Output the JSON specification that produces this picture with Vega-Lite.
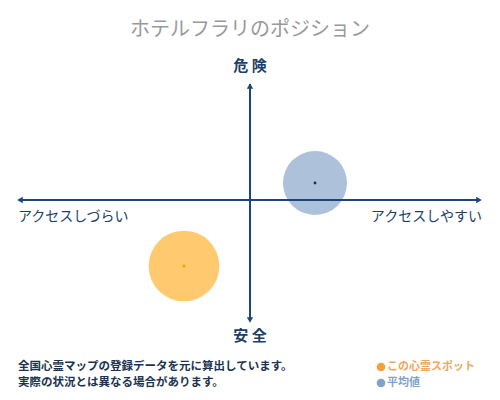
{
  "$schema": "https://vega.github.io/schema/vega-lite/v6.json",
  "width": 500,
  "height": 400,
  "padding": 0,
  "autosize": "none",
  "background": "#ffffff",
  "config": {
    "view": {"stroke": null},
    "text": {"font": "Noto Sans CJK JP"}
  },
  "encoding": {
    "x": {"type": "quantitative", "scale": {"domain": [-5, 5]}, "axis": null},
    "y": {"type": "quantitative", "scale": {"domain": [-4, 4]}, "axis": null}
  },
  "layer": [
    {
      "data": {"values": [
        {"series": "この心霊スポット", "access": -1.32, "danger": -1.32},
        {"series": "平均値", "access": 1.3, "danger": 0.34}
      ]},
      "mark": {"type": "circle", "opacity": 1},
      "encoding": {
        "x": {"field": "access"},
        "y": {"field": "danger"},
        "color": {"field": "series", "type": "nominal", "legend": null,
          "scale": {"domain": ["この心霊スポット", "平均値"], "range": ["#fec96f", "#adc2da"]}},
        "size": {"field": "series", "type": "ordinal", "legend": null,
          "scale": {"domain": ["この心霊スポット", "平均値"], "range": [5000, 4100]}}
      }
    },
    {
      "data": {"values": [
        {"series": "この心霊スポット", "access": -1.32, "danger": -1.32},
        {"series": "平均値", "access": 1.3, "danger": 0.34}
      ]},
      "mark": {"type": "circle", "size": 8, "opacity": 1},
      "encoding": {
        "x": {"field": "access"},
        "y": {"field": "danger"},
        "color": {"field": "series", "type": "nominal", "legend": null,
          "scale": {"domain": ["この心霊スポット", "平均値"], "range": ["#f0a000", "#1a3050"]}}
      }
    },
    {
      "data": {"values": [
        {"x": -4.6, "x2": 4.6, "y": 0, "y2": 0},
        {"x": 0, "x2": 0, "y": 2.32, "y2": -2.42}
      ]},
      "mark": {"type": "rule", "color": "#1b4677", "strokeWidth": 2},
      "encoding": {
        "x": {"field": "x"},
        "x2": {"field": "x2"},
        "y": {"field": "y"},
        "y2": {"field": "y2"}
      }
    },
    {
      "data": {"values": [
        {"x": -4.6, "y": 0, "dir": "left"},
        {"x": 4.58, "y": 0, "dir": "right"},
        {"x": 0, "y": 2.28, "dir": "up"},
        {"x": 0, "y": -2.4, "dir": "down"}
      ]},
      "mark": {"type": "point", "filled": true, "size": 40, "color": "#1b4677", "opacity": 1},
      "encoding": {
        "x": {"field": "x"},
        "y": {"field": "y"},
        "shape": {"field": "dir", "type": "nominal", "legend": null,
          "scale": {"domain": ["left", "right", "up", "down"],
                    "range": ["triangle-left", "triangle-right", "triangle-up", "triangle-down"]}}
      }
    },
    {
      "data": {"values": [{"label": "ホテルフラリのポジション", "x": 0, "y": 3.4}]},
      "mark": {"type": "text", "fontSize": 20, "color": "#999999", "baseline": "middle"},
      "encoding": {"x": {"field": "x"}, "y": {"field": "y"}, "text": {"field": "label"}}
    },
    {
      "data": {"values": [
        {"label": "危 険", "x": 0, "y": 2.68},
        {"label": "安 全", "x": 0, "y": -2.72}
      ]},
      "mark": {"type": "text", "fontSize": 15, "fontWeight": "bold", "color": "#1b3f66", "baseline": "middle"},
      "encoding": {"x": {"field": "x"}, "y": {"field": "y"}, "text": {"field": "label"}}
    },
    {
      "data": {"values": [{"label": "アクセスしづらい", "x": -4.64, "y": -0.34}]},
      "mark": {"type": "text", "fontSize": 14, "color": "#1b3f66", "align": "left", "baseline": "middle"},
      "encoding": {"x": {"field": "x"}, "y": {"field": "y"}, "text": {"field": "label"}}
    },
    {
      "data": {"values": [{"label": "アクセスしやすい", "x": 4.64, "y": -0.34}]},
      "mark": {"type": "text", "fontSize": 14, "color": "#1b3f66", "align": "right", "baseline": "middle"},
      "encoding": {"x": {"field": "x"}, "y": {"field": "y"}, "text": {"field": "label"}}
    },
    {
      "data": {"values": [
        {"label": "全国心霊マップの登録データを元に算出しています。", "x": -4.64, "y": -3.34},
        {"label": "実際の状況とは異なる場合があります。", "x": -4.64, "y": -3.66}
      ]},
      "mark": {"type": "text", "fontSize": 11.5, "fontWeight": "bold", "color": "#1b3350", "align": "left", "baseline": "middle"},
      "encoding": {"x": {"field": "x"}, "y": {"field": "y"}, "text": {"field": "label"}}
    },
    {
      "data": {"values": [
        {"series": "この心霊スポット", "x": 2.62, "y": -3.34},
        {"series": "平均値", "x": 2.62, "y": -3.66}
      ]},
      "mark": {"type": "circle", "size": 75, "opacity": 1},
      "encoding": {
        "x": {"field": "x"},
        "y": {"field": "y"},
        "color": {"field": "series", "type": "nominal", "legend": null,
          "scale": {"domain": ["この心霊スポット", "平均値"], "range": ["#f0a040", "#7fa3c8"]}}
      }
    },
    {
      "data": {"values": [
        {"series": "この心霊スポット", "x": 2.74, "y": -3.34},
        {"series": "平均値", "x": 2.74, "y": -3.66}
      ]},
      "mark": {"type": "text", "fontSize": 11, "fontWeight": "bold", "align": "left", "baseline": "middle"},
      "encoding": {
        "x": {"field": "x"},
        "y": {"field": "y"},
        "text": {"field": "series"},
        "color": {"field": "series", "type": "nominal", "legend": null,
          "scale": {"domain": ["この心霊スポット", "平均値"], "range": ["#eaa860", "#7fa3c8"]}}
      }
    }
  ],
  "resolve": {"scale": {"color": "independent"}}
}
